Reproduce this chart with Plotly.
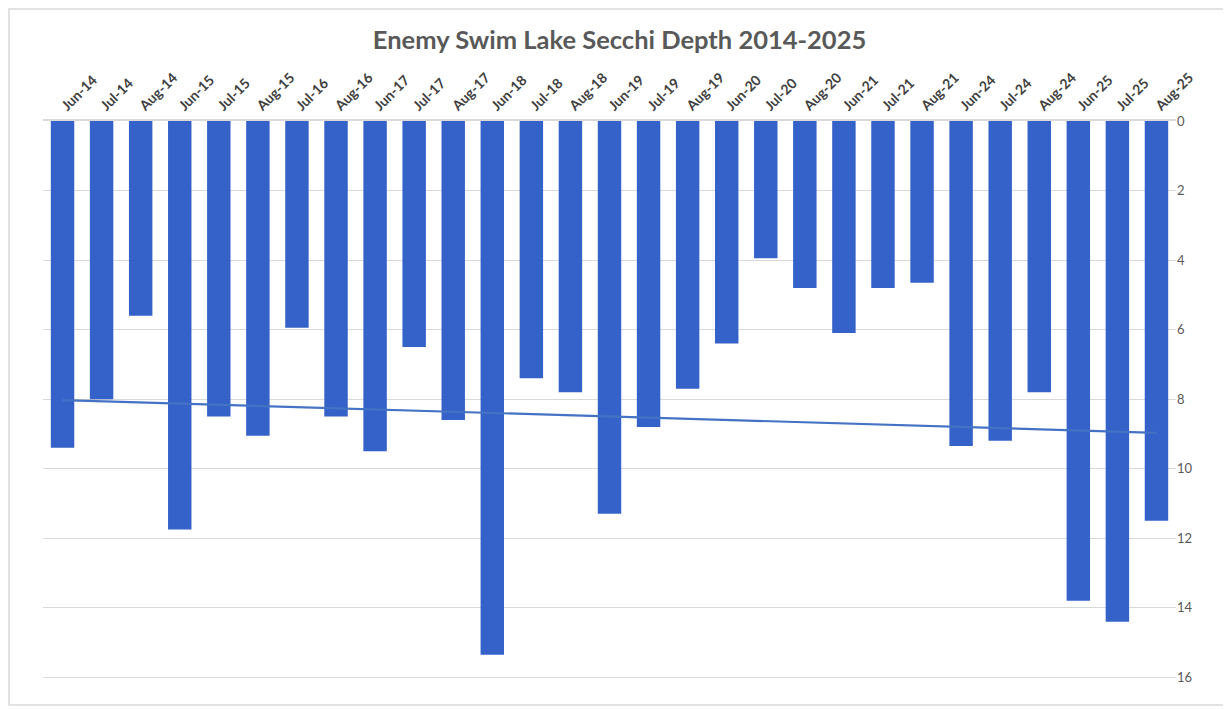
import numpy as np
import plotly.graph_objects as go

categories = ["Jun-14", "Jul-14", "Aug-14", "Jun-15", "Jul-15", "Aug-15", "Jul-16", "Aug-16",
              "Jun-17", "Jul-17", "Aug-17", "Jun-18", "Jul-18", "Aug-18", "Jun-19", "Jul-19",
              "Aug-19", "Jun-20", "Jul-20", "Aug-20", "Jun-21", "Jul-21", "Aug-21", "Jun-24",
              "Jul-24", "Aug-24", "Jun-25", "Jul-25", "Aug-25"]
secchi_depth = [9.4, 8.0, 5.6, 11.75, 8.5, 9.05, 5.95, 8.5,
                9.5, 6.5, 8.6, 15.35, 7.4, 7.8, 11.3, 8.8,
                7.7, 6.4, 3.95, 4.8, 6.1, 4.8, 4.65, 9.35,
                9.2, 7.8, 13.8, 14.4, 11.5]
y_ticks = [0, 2, 4, 6, 8, 10, 12, 14, 16]

idx = np.arange(len(categories))
slope, intercept = np.polyfit(idx, secchi_depth, 1)
trend = slope * idx + intercept

# the page body adds an 8px offset, so the figure is laid out 8px smaller
W, H = 1223, 701
ml, mr, mt, mb = 35, 55, 113, 30
pw, ph = W - ml - mr, H - mt - mb

fig = go.Figure()
fig.add_trace(go.Bar(x=categories, y=secchi_depth,
                     marker=dict(color="#3462C8", line=dict(width=0)),
                     hoverinfo="x+y"))
fig.add_trace(go.Scatter(x=categories, y=trend, mode="lines",
                         line=dict(color="#4472C4", width=2.2), hoverinfo="skip"))

# outer chart border
fig.add_shape(type="rect", xref="paper", yref="paper",
              x0=(1 - ml) / pw, x1=(1217 - ml) / pw,
              y0=(H - mb - 697) / ph, y1=(H - mb - 1) / ph,
              line=dict(color="#D9D9D9", width=1.5), layer="below")

fig.update_layout(
    width=W, height=H,
    margin=dict(l=ml, r=mr, t=mt, b=mb, autoexpand=False),
    paper_bgcolor="white", plot_bgcolor="white",
    showlegend=False, bargap=0.4,
    title=dict(text="<b>Enemy Swim Lake Secchi Depth 2014-2025</b>",
               x=0.5, xanchor="center", y=1 - 32 / H, yanchor="middle",
               font=dict(family="Lato, Open Sans, sans-serif", size=25.5, color="#595959")),
    font=dict(family="Lato, Open Sans, sans-serif"),
)
fig.update_xaxes(side="top", tickangle=-45, showgrid=False, automargin=False,
                 showline=True, linecolor="#D9D9D9", linewidth=1.5,
                 ticks="", tickfont=dict(size=14, color="#404040", family="Lato, sans-serif", weight="bold"),
                 range=[-0.5, len(categories) - 0.5])
fig.update_yaxes(side="right", autorange=False, range=[16.05, 0], automargin=False,
                 tickvals=y_ticks, ticktext=[str(v) for v in y_ticks],
                 showgrid=True, gridcolor="#D9D9D9", gridwidth=1,
                 zeroline=False, showline=False, ticks="",
                 tickfont=dict(size=13, color="#595959"))

fig.write_html("out.html")
